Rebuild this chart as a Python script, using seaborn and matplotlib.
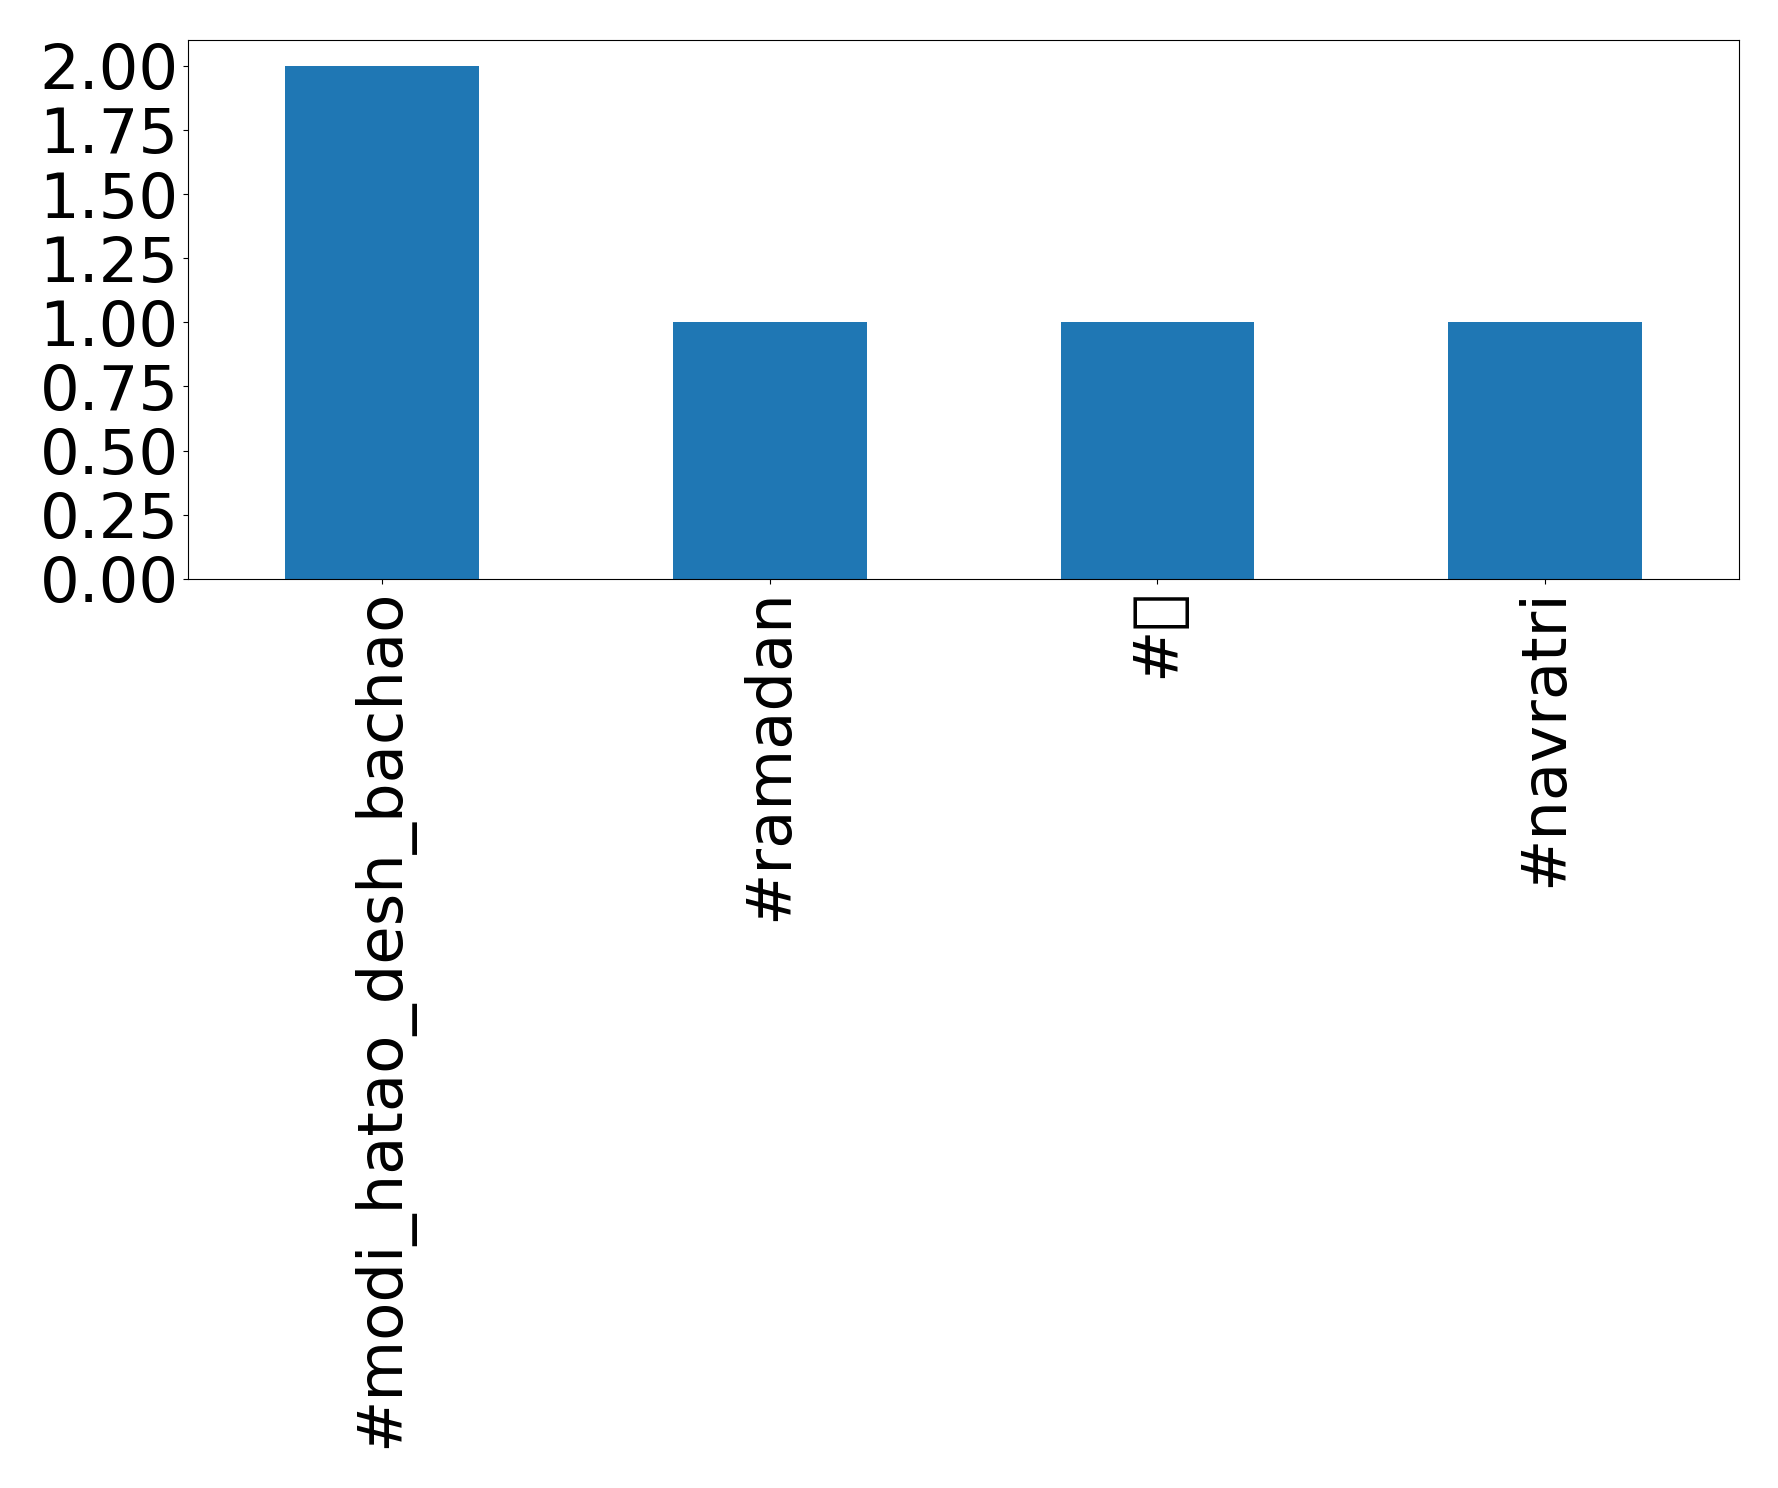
import matplotlib
matplotlib.use("Agg")
import matplotlib.pyplot as plt
import pandas as pd
import seaborn as sns

# hashtag counts
hashtags = ["#modi_hatao_desh_bachao", "#ramadan", "#\U0001F64F", "#navratri"]
counts = [2, 1, 1, 1]

df = pd.DataFrame({"hashtag": hashtags, "count": counts})

fig, ax = plt.subplots(figsize=(17.78, 14.88), dpi=100)
sns.barplot(data=df, x="hashtag", y="count", color="#1f77b4", saturation=1,
            width=0.5, ax=ax)

ax.set_xlim(-0.5, 3.5)
ax.set_ylim(0, 2.1)
ax.set_yticks([0, 0.25, 0.5, 0.75, 1.0, 1.25, 1.5, 1.75, 2.0])
ax.set_yticklabels(["%.2f" % v for v in ax.get_yticks()])
ax.set_xlabel("")
ax.set_ylabel("")
ax.tick_params(axis="both", labelsize=45)
plt.setp(ax.get_xticklabels(), rotation=90)

fig.subplots_adjust(left=0.106, right=0.978, top=0.973, bottom=0.611)
fig.savefig("out.png", dpi=100)
